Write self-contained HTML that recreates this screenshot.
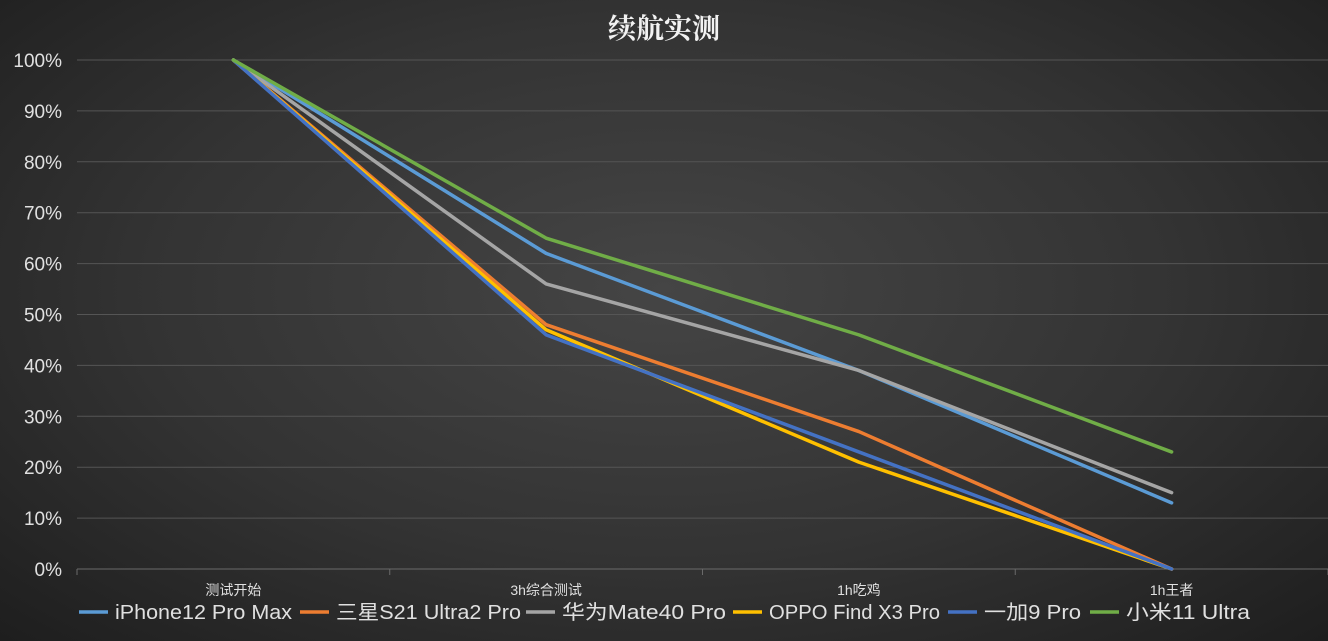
<!DOCTYPE html>
<html><head><meta charset="utf-8"><style>
html,body{margin:0;padding:0;width:1328px;height:641px;overflow:hidden;}
body{background:radial-gradient(ellipse at 50% 45%,#454545 0%,#333 55%,#1e1e1e 100%);font-family:"Liberation Sans","Noto Sans CJK SC",sans-serif;}
svg{position:absolute;left:0;top:0;}
</style></head><body>
<svg id="chart" width="1328" height="641" xmlns="http://www.w3.org/2000/svg">
<text x="664" y="38" text-anchor="middle" fill="#f2f2f2" font-size="28" font-weight="bold" font-family="'Noto Serif CJK SC','Noto Sans CJK SC',serif">续航实测</text>
<g id="grid"></g><g id="axis"></g><g id="lines"></g><g id="legend"></g>
</svg>
<script>
const categories=["测试开始","3h综合测试","1h吃鸡","1h王者"];
const seriesNames=["iPhone12 Pro Max","三星S21 Ultra2 Pro","华为Mate40 Pro","OPPO Find X3 Pro","一加9 Pro","小米11 Ultra"];
const iphone=[100,62,39,13];
const samsung=[100,48,27,0];
const huawei=[100,56,39,15];
const oppo=[100,47,21,0];
const oneplus=[100,46,23,0];
const xiaomi=[100,65,46,23];
const yTicks=[0,10,20,30,40,50,60,70,80,90,100];
const seriesData=[iphone,samsung,huawei,oppo,oneplus,xiaomi];
const colors=["#5b9bd5","#ed7d31","#a5a5a5","#ffc000","#4472c4","#70ad47"];
const NS="http://www.w3.org/2000/svg";
const L=77,R=1328,T=60,B=569,n=categories.length,step=(R-L)/n;
const x=i=>L+step*(i+0.5);
const y=v=>B-(v/100)*(B-T);
function mk(tag,attrs,parent){const e=document.createElementNS(NS,tag);for(const k in attrs)e.setAttribute(k,attrs[k]);parent.appendChild(e);return e;}
const grid=document.getElementById('grid'),axis=document.getElementById('axis'),lines=document.getElementById('lines'),legend=document.getElementById('legend');
yTicks.forEach(t=>{
  const ln=mk('line',{x1:L,x2:R,y1:y(t),y2:y(t),stroke:t===0?'#6a6a6a':'#555','stroke-width':1},grid);
  
  
  const tx=mk('text',{x:62,y:y(t)+7,'text-anchor':'end',fill:'#e0e0e0','font-size':19},axis);
  tx.textContent=t+'%';
  
  
});
for(let i=0;i<=n;i++){
  const tk=mk('line',{x1:L+step*i,x2:L+step*i,y1:B,y2:B+6,stroke:'#6a6a6a'},axis);
  
  
}
categories.forEach((c,i)=>{
  const tx=mk('text',{x:x(i),y:595,'text-anchor':'middle',fill:'#e0e0e0','font-size':14},axis);
  tx.textContent=c;
  
  
});
seriesData.forEach((d,s)=>{
  const pl=mk('polyline',{points:d.map((v,i)=>x(i)+','+y(v)).join(' '),fill:'none',stroke:colors[s],'stroke-width':3.5,'stroke-linejoin':'round','stroke-linecap':'round'},lines);
  
  
});
// legend layout (positions only)
const lx=[79,300,526,733,948,1090];
const tw=[177,185,164,171,97,124];
seriesNames.forEach((nm,s)=>{
  const g=mk('g',{},legend);
  
  
  mk('line',{x1:lx[s],x2:lx[s]+29,y1:612,y2:612,stroke:colors[s],'stroke-width':3.5},g);
  const t=mk('text',{x:lx[s]+36,y:619,fill:'#e0e0e0','font-size':20,textLength:tw[s],lengthAdjust:'spacingAndGlyphs'},g);
  t.textContent=nm;
});
</script>
</body></html>
